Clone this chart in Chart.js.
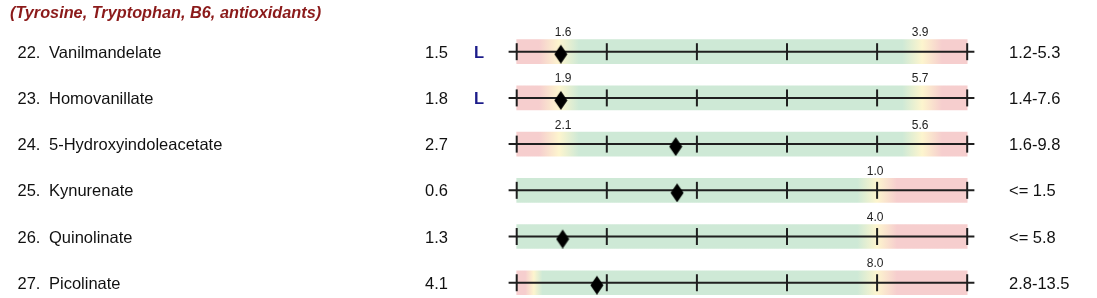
<!DOCTYPE html>
<html>
<head>
<meta charset="utf-8">
<script src="https://cdn.jsdelivr.net/npm/chart.js@4/dist/chart.umd.min.js"></script>
<style>
  html, body { margin: 0; padding: 0; background: #fff; overflow: hidden; }
  canvas { display: block; }
</style>
</head>
<body>
<canvas id="markerChart" width="1097" height="298"></canvas>
<script>
// Rows of the report
const rowNumbers = ['22.', '23.', '24.', '25.', '26.', '27.'];
const rowNames = ['Vanilmandelate', 'Homovanillate', '5-Hydroxyindoleacetate', 'Kynurenate', 'Quinolinate', 'Picolinate'];
const results = ['1.5', '1.8', '2.7', '0.6', '1.3', '4.1'];
const flags = ['L', 'L', '', '', '', ''];
const refRanges = ['1.2-5.3', '1.4-7.6', '1.6-9.8', '<= 1.5', '<= 5.8', '2.8-13.5'];

// Limit labels over the bars and where they sit on the 0-5 bar scale
const lowLimits = ['1.6', '1.9', '2.1', '', '', ''];
const highLimits = ['3.9', '5.7', '5.6', '1.0', '4.0', '8.0'];
const lowLimitPos = [0.47, 0.47, 0.47, null, null, 0.19];
const highLimitPos = [4.5, 4.5, 4.5, 4.0, 4.0, 4.0];

// Where the result diamond sits on the bar scale
const markerPos = [0.49, 0.49, 1.765, 1.78, 0.51, 0.89];
const tickValues = [0, 1, 2, 3, 4, 5];

const PINK = 'rgb(246,206,206)';
const YELLOW = 'rgb(253,245,206)';
const GREEN = 'rgb(206,233,214)';
const INK = '#1f1f1f';
const FONT = '"Liberation Sans", Arial, Helvetica, sans-serif';

// diamond marker image (drawn a bit low, like the report)
function makeDiamond () {
  const c = document.createElement('canvas');
  c.width = 14;
  c.height = 24;
  const g = c.getContext('2d');
  g.fillStyle = '#000';
  g.beginPath();
  g.moveTo(7, 5);
  g.lineTo(13.5, 14.5);
  g.lineTo(7, 24);
  g.lineTo(0.5, 14.5);
  g.closePath();
  g.fill();
  return c;
}

function barGradient (context) {
  const chart = context.chart;
  const i = context.dataIndex;
  const xs = chart.scales.x;
  if (!chart.chartArea) return GREEN;
  const x0 = xs.getPixelForValue(0);
  const x1 = xs.getPixelForValue(5);
  const grad = chart.ctx.createLinearGradient(x0, 0, x1, 0);
  const f = v => Math.max(0, Math.min(1, v / 5));
  const lo = lowLimitPos[i];
  const hi = highLimitPos[i];
  if (lo !== null) {
    const w = Math.min(0.22, lo / 2);
    grad.addColorStop(0, PINK);
    grad.addColorStop(f(lo - w), PINK);
    grad.addColorStop(f(lo), YELLOW);
    grad.addColorStop(f(lo + w), GREEN);
  } else {
    grad.addColorStop(0, GREEN);
  }
  if (hi !== null) {
    const w = 0.22;
    grad.addColorStop(f(hi - w), GREEN);
    grad.addColorStop(f(hi), YELLOW);
    grad.addColorStop(f(hi + w), PINK);
    grad.addColorStop(1, PINK);
  } else {
    grad.addColorStop(1, GREEN);
  }
  return grad;
}

// Text around the bars
const reportText = {
  id: 'reportText',
  afterDraw (chart) {
    const ctx = chart.ctx;
    const xs = chart.scales.x;
    const ys = chart.scales.y;
    ctx.save();
    ctx.textBaseline = 'alphabetic';

    ctx.fillStyle = '#8b1a1a';
    ctx.font = 'italic bold 16.3px ' + FONT;
    ctx.textAlign = 'left';
    ctx.fillText('(Tyrosine, Tryptophan, B6, antioxidants)', 10, 17.5);

    rowNames.forEach((name, i) => {
      const y = ys.getPixelForValue(i);
      ctx.font = '16.5px ' + FONT;
      ctx.fillStyle = '#111';
      ctx.textAlign = 'left';
      ctx.fillText(rowNumbers[i], 17.5, y + 6);
      ctx.fillText(name, 49, y + 6);
      ctx.textAlign = 'right';
      ctx.fillText(results[i], 448, y + 6);
      ctx.textAlign = 'left';
      ctx.fillText(refRanges[i], 1009, y + 6);
      if (flags[i]) {
        ctx.font = 'bold 16.5px ' + FONT;
        ctx.fillStyle = '#1c1c8a';
        ctx.fillText(flags[i], 474, y + 6);
      }

      ctx.font = '12px ' + FONT;
      ctx.fillStyle = '#222';
      ctx.textAlign = 'center';
      if (lowLimits[i]) ctx.fillText(lowLimits[i], xs.getPixelForValue(lowLimitPos[i]) + 4, y - 15.5);
      if (highLimits[i]) ctx.fillText(highLimits[i], xs.getPixelForValue(highLimitPos[i]) - 2, y - 15.5);
    });
    ctx.restore();
  }
};

const rows = rowNames.map((n, i) => i);

const datasets = [];

// coloured reference bars
datasets.push({
  type: 'bar',
  indexAxis: 'y',
  data: rows.map(i => ({ y: i, x: [0, 5] })),
  backgroundColor: barGradient,
  barThickness: 24,
  borderWidth: 0,
  order: 4
});

// axis line through each bar
rows.forEach(i => {
  datasets.push({
    type: 'line',
    data: [{ x: -0.09, y: i }, { x: 5.08, y: i }],
    borderColor: INK,
    borderWidth: 2,
    pointRadius: 0,
    clip: false,
    order: 3
  });
});

// tick marks
datasets.push({
  type: 'scatter',
  data: rows.flatMap(i => tickValues.map(t => ({ x: t, y: i }))),
  pointStyle: 'line',
  rotation: 90,
  radius: 8.5,
  borderColor: INK,
  borderWidth: 2,
  clip: false,
  order: 2
});

// result diamonds
datasets.push({
  type: 'scatter',
  data: rows.map(i => ({ x: markerPos[i], y: i })),
  pointStyle: makeDiamond(),
  radius: 10,
  clip: false,
  order: 1
});

new Chart(document.getElementById('markerChart'), {
  type: 'scatter',
  data: { datasets: datasets },
  options: {
    responsive: false,
    devicePixelRatio: 1,
    animation: false,
    events: [],
    layout: {
      autoPadding: false,
      padding: { left: 507.7, right: 120.8, top: 28.6, bottom: 1.4 }
    },
    scales: {
      x: { type: 'linear', min: -0.1, max: 5.1, offset: false, display: false },
      y: { type: 'linear', min: -0.5, max: 5.3, reverse: true, offset: false, display: false }
    },
    plugins: {
      legend: { display: false },
      tooltip: { enabled: false }
    }
  },
  plugins: [reportText]
});
</script>
</body>
</html>
